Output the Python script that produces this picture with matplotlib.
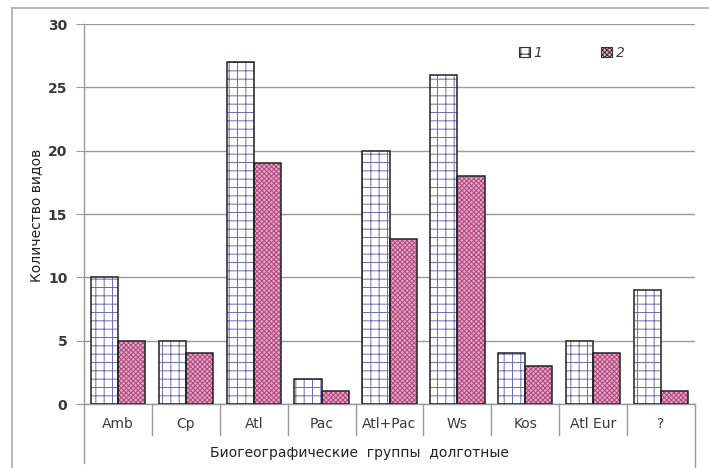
import matplotlib
matplotlib.use('Agg')
import matplotlib.pyplot as plt
from matplotlib.lines import Line2D
from matplotlib.patches import Patch
import numpy as np

categories = ['Amb', 'Cp', 'Atl', 'Pac', 'Atl+Pac', 'Ws', 'Kos', 'Atl Eur', '?']
series_1 = [10, 5, 27, 2, 20, 26, 4, 5, 9]
series_2 = [5, 4, 19, 1, 13, 18, 3, 4, 1]
yticks = [0, 5, 10, 15, 20, 25, 30]

W, H = 709, 468
grid_col = '#9a9a9a'
text_col = '#3a3a3a'
s1_hatch = '#6b6bb5'
s2_face = '#e2a9c6'
s2_hatch = '#b2457d'

plt.rcParams['hatch.linewidth'] = 0.7
fig = plt.figure(figsize=(W / 100, H / 100), dpi=100)
ax = fig.add_axes([84 / W, 1 - 404 / H, (695 - 84) / W, (404 - 24) / H])

x = np.arange(len(categories))
bw = 0.4

# hatched fills, then black outlines on top
ax.bar(x - bw / 2, series_1, bw, facecolor='white', edgecolor=s1_hatch, hatch='++', lw=0, zorder=3)
ax.bar(x + bw / 2, series_2, bw, facecolor=s2_face, edgecolor=s2_hatch, hatch='xxxxxxx', lw=0, zorder=3)
ax.bar(x - bw / 2, series_1, bw, facecolor='none', edgecolor='#222222', lw=1.1, zorder=4)
ax.bar(x + bw / 2, series_2, bw, facecolor='none', edgecolor='#222222', lw=1.1, zorder=4)

ax.set_xlim(-0.5, len(categories) - 0.5)
ax.set_ylim(0, 30)
ax.set_yticks(yticks)
ax.set_yticklabels([str(t) for t in yticks], fontsize=10, color=text_col, fontweight='semibold')
ax.tick_params(axis='y', direction='out', length=6, color=grid_col, pad=6)
ax.set_xticks([])
ax.yaxis.grid(True, color=grid_col, lw=1)
ax.set_axisbelow(True)
for s in ['top', 'right']:
    ax.spines[s].set_visible(False)
for s in ['left', 'bottom']:
    ax.spines[s].set_color(grid_col)
    ax.spines[s].set_linewidth(1)

# category table below the axis
trans = ax.get_xaxis_transform()
px = 1 / (404 - 24)
for i in range(len(categories) + 1):
    xb = i - 0.5
    if i == 0:
        y_end = -59 * px
    elif i == len(categories):
        y_end = -70 * px
    else:
        y_end = -31 * px
    ax.add_line(Line2D([xb, xb], [0, y_end], transform=trans, color=grid_col, lw=1, clip_on=False))
for i, c in enumerate(categories):
    ax.text(i, -20 * px, c, transform=trans, ha='center', va='center', fontsize=10, color=text_col)

fig.text(359 / W, 1 - 453 / H, 'Биогеографические  группы  долготные', ha='center', va='center',
         fontsize=10, color='#222222')
fig.text(36 / W, 1 - 215 / H, 'Количество видов', rotation=90, ha='center', va='center',
         fontsize=10, color='#222222')

# outer frame (left and top edges)
fig.add_artist(Line2D([12 / W, 12 / W], [0, 1 - 8 / H], transform=fig.transFigure, color='#aaaaaa', lw=1.2))
fig.add_artist(Line2D([12 / W, 1], [1 - 8 / H, 1 - 8 / H], transform=fig.transFigure, color='#aaaaaa', lw=1.2))

handles = [Patch(facecolor='white', edgecolor='#333333', hatch='++', lw=0.8),
           Patch(facecolor=s2_face, edgecolor='#333333', hatch='xxxxxxx', lw=0.8)]
leg = fig.legend(handles, ['1', '2'], ncol=2, frameon=False, loc='center left',
                 bbox_to_anchor=(506 / W, 1 - 53 / H), handlelength=0.8, handleheight=0.8,
                 handletextpad=0.3, columnspacing=4.2, prop={'style': 'italic', 'size': 10})
for t in leg.get_texts():
    t.set_color(text_col)

fig.savefig('out.png', dpi=100)
